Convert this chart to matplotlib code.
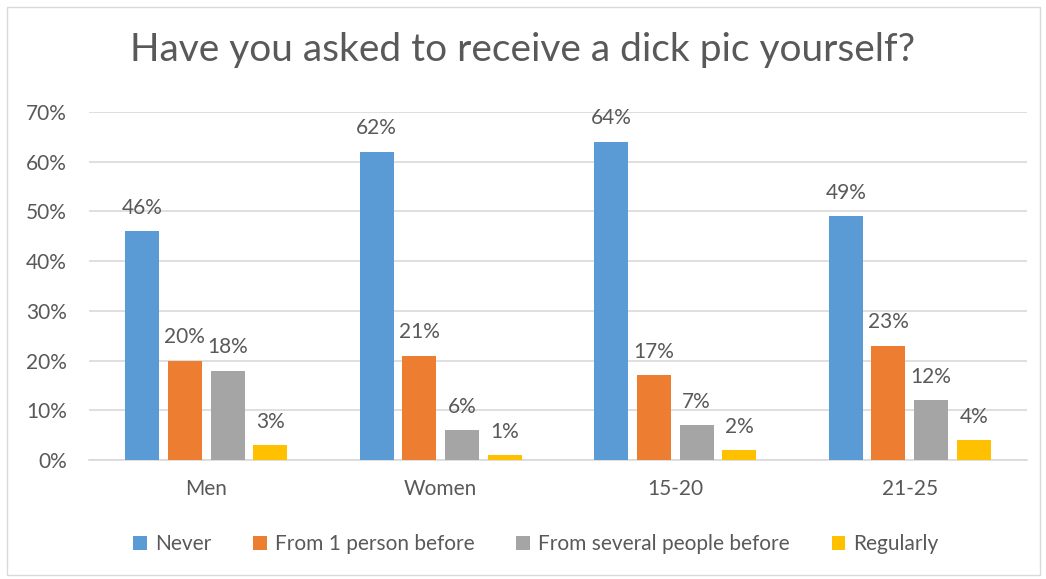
import matplotlib.pyplot as plt
import numpy as np

# data
groups = ["Men", "Women", "15-20", "21-25"]
series = ["Never", "From 1 person before", "From several people before", "Regularly"]
never = [46, 62, 64, 49]
one_person = [20, 21, 17, 23]
several = [18, 6, 7, 12]
regularly = [3, 1, 2, 4]
colors = ["#5B9BD5", "#ED7D31", "#A5A5A5", "#FFC000"]

plt.rcParams['font.family'] = ['Lato', 'DejaVu Sans']
text_color = "#595959"

fig = plt.figure(figsize=(10.46, 5.79), dpi=100)
ax = fig.add_axes([89 / 1046, 1 - 460 / 579, 938 / 1046, 348 / 579])

x = np.arange(len(groups))
step = 0.182
width = 0.145
values = [never, one_person, several, regularly]
for i, (name, vals, c) in enumerate(zip(series, values, colors)):
    pos = x + (i - 1.5) * step
    v = np.array(vals) / 100
    ax.bar(pos, v, width, color=c, label=name, zorder=3)
    for px, pv, raw in zip(pos, v, vals):
        ax.text(px, pv + 0.027, f"{raw}%", ha="center", va="bottom",
                fontsize=15, color=text_color)

ax.set_xlim(-0.5, 3.5)
ax.set_ylim(0, 0.7)
ax.set_yticks(np.arange(0, 0.71, 0.1))
ax.set_yticklabels([f"{int(round(t * 100))}%" for t in np.arange(0, 0.71, 0.1)])
ax.set_xticks(x)
ax.set_xticklabels(groups)
ax.tick_params(axis="both", length=0, labelsize=15, colors=text_color)
ax.tick_params(axis="y", pad=16)
ax.tick_params(axis="x", pad=14)
ax.grid(axis="y", color="#D9D9D9", linewidth=1.2, zorder=0)
for s in ["top", "right", "left"]:
    ax.spines[s].set_visible(False)
ax.spines["bottom"].set_color("#D9D9D9")
ax.spines["bottom"].set_linewidth(1.2)

fig.text(0.5, 1 - 50 / 579, "Have you asked to receive a dick pic yourself?",
         ha="center", va="center", fontsize=28, color=text_color)

leg = fig.legend(loc="center", bbox_to_anchor=(536 / 1046, 1 - 544 / 579), ncol=4,
                 frameon=False, fontsize=15, handlelength=0.65, handleheight=0.65,
                 columnspacing=2.0, handletextpad=0.4)
for t in leg.get_texts():
    t.set_color(text_color)

fig.patches.append(plt.Rectangle((7 / 1046, 4 / 579), 1033 / 1046, 568 / 579,
                                 transform=fig.transFigure, fill=False,
                                 edgecolor="#D9D9D9", linewidth=1))

fig.savefig("out.png", dpi=100)
